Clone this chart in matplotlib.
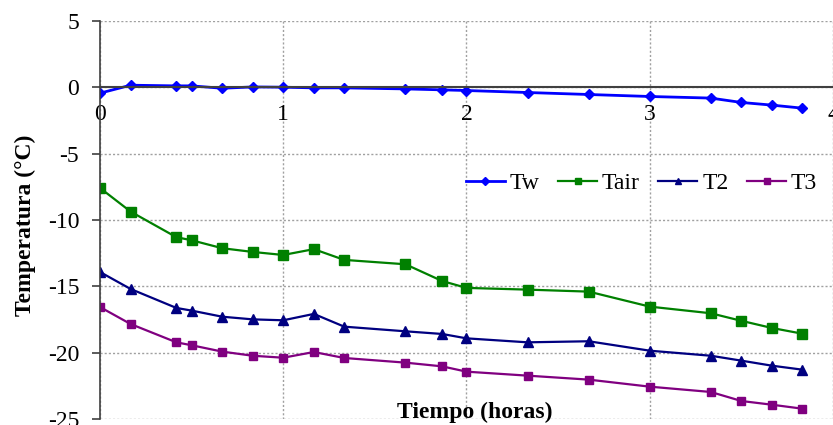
#!/usr/bin/env python3
# -*- coding:utf-8 -*-

import numpy as np
import matplotlib
matplotlib.use('Agg')
import matplotlib.pyplot as plt

plt.rcParams['font.family'] = ['Liberation Serif', 'DejaVu Serif']
plt.rcParams['axes.unicode_minus'] = False

# data set (horas, °C)
tiempo = [0.0, 0.167, 0.417, 0.5, 0.667, 0.833, 1.0, 1.167, 1.333, 1.667,
          1.867, 2.0, 2.333, 2.667, 3.0, 3.333, 3.5, 3.667, 3.833]
tw = [-0.45, 0.15, 0.1, 0.1, -0.08, 0.02, 0.0, -0.05, -0.05, -0.13,
      -0.2, -0.25, -0.4, -0.55, -0.7, -0.82, -1.15, -1.35, -1.58]
tair = [-7.59, -9.37, -11.3, -11.53, -12.13, -12.41, -12.64, -12.2, -13.01, -13.34,
        -14.6, -15.12, -15.25, -15.4, -16.53, -17.03, -17.6, -18.14, -18.57]
t2 = [-13.92, -15.2, -16.63, -16.83, -17.29, -17.49, -17.56, -17.08, -18.04, -18.39,
      -18.59, -18.92, -19.22, -19.14, -19.85, -20.23, -20.6, -20.98, -21.28]
t3 = [-16.56, -17.84, -19.22, -19.44, -19.92, -20.23, -20.38, -19.95, -20.4, -20.75,
      -21.03, -21.43, -21.73, -22.03, -22.56, -22.96, -23.64, -23.92, -24.22]

series = [
    ('Tw', tw, '#0000FF', 'D', 5, 2.0),
    ('Tair', tair, '#008000', 's', 6.5, 1.6),
    ('T2', t2, '#000080', '^', 6.5, 1.6),
    ('T3', t3, '#800080', 's', 6, 1.6),
]

fig = plt.figure(figsize=(8.33, 4.25), dpi=100)
ax = fig.add_axes([0.12, 0.014, 0.88, 0.937])

for name, vals, color, mk, ms, lw in series:
    ax.plot(tiempo, vals, color=color, marker=mk, markersize=ms, lw=lw, label=name)

ax.set_xlim(0, 4)
ax.set_ylim(-25, 5)
ax.set_xticks([0, 1, 2, 3, 4])
ax.set_yticks(np.arange(-25, 6, 5))

# grid
ax.grid(True, color='#A0A0A0', linestyle=(0, (1.5, 1.5)), lw=1.0)
ax.set_axisbelow(True)

# spines: x axis crosses at y=0
ax.spines['top'].set_visible(False)
ax.spines['right'].set_visible(False)
ax.spines['bottom'].set_position(('data', 0))
ax.spines['bottom'].set_color('#404040')
ax.spines['bottom'].set_linewidth(1.5)
ax.spines['left'].set_color('#404040')
ax.spines['left'].set_linewidth(1.2)

ax.tick_params(axis='x', length=0, labelsize=17, pad=12)
ax.tick_params(axis='y', length=6, width=1.2, color='#404040', labelsize=17, pad=9, direction='out')

fig.text(25 / 833, 1 - 225 / 425, 'Temperatura (°C)', rotation=90, ha='center', va='center',
         fontsize=17, fontweight='bold')
fig.text(475 / 833, 13 / 425, 'Tiempo (horas)', ha='center', va='center',
         fontsize=17, fontweight='bold')

leg = ax.legend(loc='center', bbox_to_anchor=(0.770, 0.569), bbox_transform=fig.transFigure,
                ncol=4, frameon=False, fontsize=17, handlelength=1.65, handletextpad=0.2,
                columnspacing=0.8)
for h in leg.legend_handles:
    h.set_markersize(4.5)

plt.savefig('out.png', dpi=100)
